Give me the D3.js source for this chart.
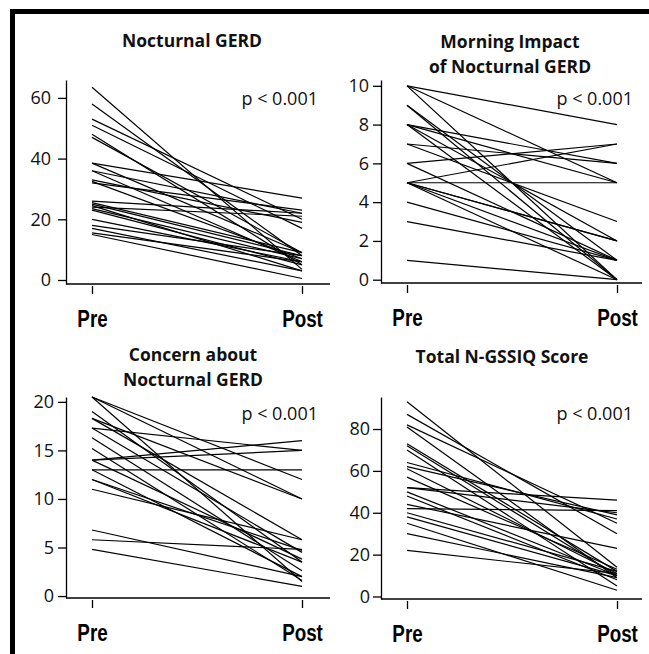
<!DOCTYPE html>
<html>
<head>
<meta charset="utf-8">
<script src="https://cdn.jsdelivr.net/npm/d3@7"></script>
<style>
  body { margin: 0; background: #fff; }
  svg { display: block; }
  .yax .tick text { font-family: 'Open Sans', sans-serif; font-size: 18px; fill: #111; }
  .ptext { font-family: 'Open Sans', sans-serif; font-size: 18px; fill: #111; }
  .title { font-family: 'Open Sans', sans-serif; font-weight: bold; font-size: 17.5px; fill: #111; }
  .xax .tick text { font-family: 'Liberation Sans', Arial, sans-serif; font-weight: bold; font-size: 23.5px; fill: #000; }
</style>
</head>
<body>
<svg width="649" height="654"></svg>
<script>
const times = ['Pre', 'Post'];

// Nocturnal GERD
const nocturnalPre  = [63.5, 58, 53, 51, 48, 47, 38.5, 38.5, 36, 36, 33, 32.5, 32, 26, 25.5, 25, 24.5, 24, 23.5, 23, 20, 18, 17, 15.5, 15];
const nocturnalPost = [3.5, 8, 20, 17, 5, 9, 27, 9, 22, 6, 19, 7, 23, 22, 9, 8, 3, 21, 7, 5, 6, 8, 3, 6, 0.5];
const nocturnalTicks = [0, 20, 40, 60];

// Morning Impact of Nocturnal GERD
const morningPre  = [10, 10, 10, 9, 9, 8, 8, 8, 8, 7, 7, 6, 6, 5, 5, 5, 5, 5, 5, 4, 3, 1];
const morningPost = [8, 5, 0, 0, 1, 5, 2, 0, 6, 6, 3, 7, 1, 7, 5, 2, 2, 1, 0, 1, 1, 0];
const morningTicks = [0, 2, 4, 6, 8, 10];

// Concern about Nocturnal GERD
const concernPre  = [20.5, 20.5, 20.5, 19, 18.3, 18.3, 17.3, 17.3, 16.3, 15.2, 14, 14, 14, 13, 13, 12, 12, 11, 6.8, 5.8, 4.8];
const concernPost = [12, 10, 1.5, 3.5, 10, 5.8, 15, 4.5, 2.6, 1.6, 16, 15, 3.8, 13, 2, 4.7, 3.5, 5.8, 2, 4.8, 1];
const concernTicks = [0, 5, 10, 15, 20];

// Total N-GSSIQ Score
const totalPre  = [93, 87, 82, 81, 73, 72, 70, 64, 62, 61, 57, 52, 52, 50, 48, 44, 42, 40, 38, 35, 30, 22];
const totalPost = [14, 30, 35, 9, 12, 10, 5, 37, 39, 11, 13, 46, 40, 10, 8, 23, 41, 12, 10, 3, 9, 11];
const totalTicks = [0, 20, 40, 60, 80];

const panels = [
  { title: ['Nocturnal GERD'], pre: nocturnalPre, post: nocturnalPost, ticks: nocturnalTicks,
    dom: [-1.32, 65.9], ax: 66, px: 92, qx: 302, xEnd: 330, top: 80, bottom: 284,
    titleX: 192, titleY: 47, pX: 318, pY: 105, pad: 7 },
  { title: ['Morning Impact', 'of Nocturnal GERD'], pre: morningPre, post: morningPost, ticks: morningTicks,
    dom: [-0.17, 10.3], ax: 381, px: 407, qx: 617, xEnd: 642, top: 80, bottom: 283,
    titleX: 510, titleY: 48, pX: 633, pY: 105, pad: 4 },
  { title: ['Concern about', 'Nocturnal GERD'], pre: concernPre, post: concernPost, ticks: concernTicks,
    dom: [-0.2, 20.5], ax: 66, px: 92, qx: 302, xEnd: 330, top: 397, bottom: 598,
    titleX: 193, titleY: 361, pX: 318, pY: 420, pad: 4 },
  { title: ['Total N-GSSIQ Score'], pre: totalPre, post: totalPost, ticks: totalTicks,
    dom: [-1.2, 95.3], ax: 381, px: 407, qx: 617, xEnd: 642, top: 397, bottom: 599,
    titleX: 502, titleY: 363, pX: 633, pY: 420, pad: 3 }
];

const svg = d3.select('svg');

// frame (only top and left edges fall inside the picture)
svg.append('rect')
  .attr('x', 12.5).attr('y', 11.5)
  .attr('width', 800).attr('height', 800)
  .attr('fill', 'none').attr('stroke', '#000').attr('stroke-width', 5);

panels.forEach(p => {
  const g = svg.append('g');

  const x = d3.scalePoint().domain(times).range([p.px, p.qx]);
  const y = d3.scaleLinear().domain(p.dom).range([p.bottom, p.top]);

  // subject lines
  g.selectAll('.subj')
    .data(p.pre.map((v, i) => [v, p.post[i]]))
    .enter().append('line')
    .attr('class', 'subj')
    .attr('x1', x('Pre')).attr('y1', d => y(d[0]))
    .attr('x2', x('Post')).attr('y2', d => y(d[1]))
    .attr('stroke', '#000').attr('stroke-width', 1.2);

  // y axis
  const ya = g.append('g')
    .attr('class', 'yax')
    .attr('transform', `translate(${p.ax},0)`)
    .call(d3.axisLeft(y).tickValues(p.ticks).tickSize(8).tickSizeOuter(0).tickPadding(p.pad));
  ya.selectAll('path, line').attr('stroke', '#000').attr('stroke-width', 1.3);

  // x axis baseline
  g.append('line')
    .attr('x1', p.ax).attr('x2', p.xEnd)
    .attr('y1', p.bottom).attr('y2', p.bottom)
    .attr('stroke', '#000').attr('stroke-width', 1.3);

  const xa = g.append('g')
    .attr('class', 'xax')
    .attr('transform', `translate(0,${p.bottom + 2})`)
    .call(d3.axisBottom(x).tickSize(8).tickSizeOuter(0).tickPadding(16));
  xa.select('.domain').remove();
  xa.selectAll('line').attr('stroke', '#000').attr('stroke-width', 1.3);
  // squeeze the bold labels to look like a condensed face
  xa.selectAll('text').attr('transform', 'scale(0.8,1)');

  // title
  p.title.forEach((t, i) => {
    g.append('text')
      .attr('class', 'title')
      .attr('x', p.titleX).attr('y', p.titleY + i * 25)
      .attr('text-anchor', 'middle')
      .text(t);
  });

  g.append('text')
    .attr('class', 'ptext')
    .attr('x', p.pX).attr('y', p.pY)
    .attr('text-anchor', 'end')
    .text('p < 0.001');
});
</script>
</body>
</html>
